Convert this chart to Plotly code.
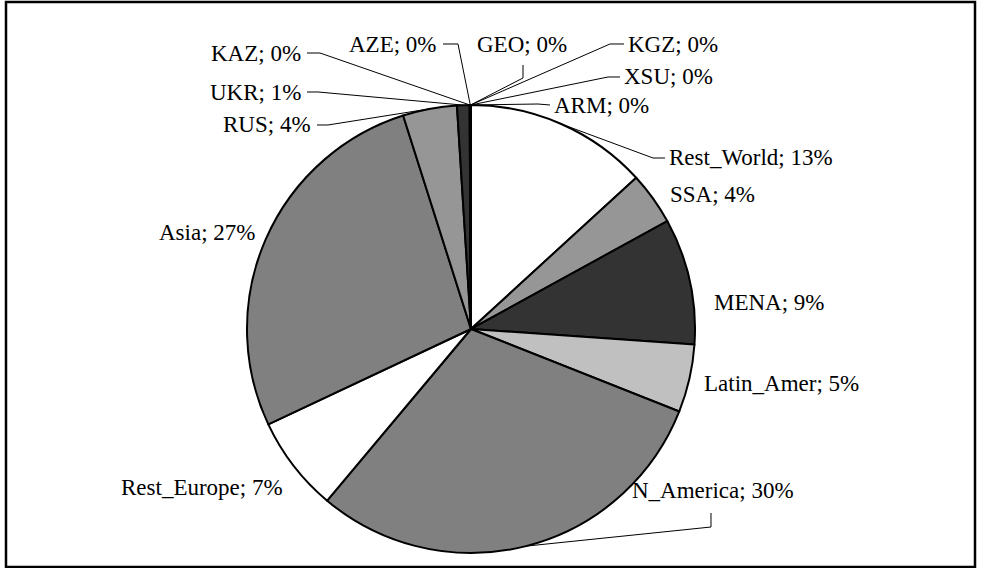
import math
import plotly.graph_objects as go

# ---- data ----
labels = ["Rest_World", "SSA", "MENA", "Latin_Amer", "N_America", "Rest_Europe",
          "Asia", "RUS", "UKR", "KAZ", "AZE", "GEO", "KGZ", "XSU", "ARM"]
shares = [13.2, 3.8, 9.1, 4.9, 30.1, 6.9, 27.1, 3.9, 0.9,
          0.04, 0.02, 0.01, 0.01, 0.01, 0.01]

# ---- style ----
slice_colors = ["#ffffff", "#969696", "#333333", "#c0c0c0", "#808080", "#ffffff",
                "#808080", "#969696", "#333333", "#c0c0c0", "#808080", "#ffffff",
                "#969696", "#333333", "#c0c0c0"]

W, H = 982, 568
CX, CY, R = 471, 329, 224  # pie geometry in pixels

# label layout: side, anchor x, anchor y, leader path points (pixels) before the slice edge
label_layout = {
    "Rest_World": ("left", 668, 158, [(665, 158), (653, 158)]),
    "SSA": ("left", 669, 195, None),
    "MENA": ("left", 713, 302, None),
    "Latin_Amer": ("left", 703, 383, None),
    "N_America": ("left", 631, 490, [(711, 513), (711, 527)]),
    "Rest_Europe": ("right", 284, 487, None),
    "Asia": ("right", 256, 232, None),
    "RUS": ("right", 312, 125, [(317, 125), (328, 125)]),
    "UKR": ("right", 302, 92, [(307, 92), (318, 92)]),
    "KAZ": ("right", 302, 53, [(307, 53), (320, 53)]),
    "AZE": ("right", 438, 44, [(443, 44), (458, 44)]),
    "GEO": ("left", 476, 44, [(523, 65), (523, 78)]),
    "KGZ": ("left", 627, 44, [(624, 44), (610, 44)]),
    "XSU": ("left", 623, 77, [(620, 77), (608, 77)]),
    "ARM": ("left", 553, 105, [(550, 105), (538, 104)]),
}

FONT = dict(family="Liberation Serif", size=23, color="black")


def px_x(x):
    return x / W


def px_y(y):
    return 1 - y / H


fig = go.Figure(go.Pie(
    labels=labels,
    values=shares,
    sort=False,
    direction="clockwise",
    rotation=0,
    textinfo="none",
    hoverinfo="label+percent",
    marker=dict(colors=slice_colors, line=dict(color="black", width=2)),
    domain=dict(x=[px_x(CX - R), px_x(CX + R)], y=[px_y(CY + R), px_y(CY - R)]),
    showlegend=False,
))

total = sum(shares)
cum = 0.0
annotations = []
shapes = []
for name, v in zip(labels, shares):
    frac = (cum + v / 2) / total
    cum += v
    theta = 2 * math.pi * frac
    ex = CX + R * math.sin(theta)
    ey = CY - R * math.cos(theta)
    side, ax, ay, leader = label_layout[name]
    pct = round(v / total * 100)
    annotations.append(dict(
        text=f"{name}; {pct}%", x=px_x(ax), y=px_y(ay), xref="paper", yref="paper",
        xanchor=side, yanchor="middle", showarrow=False, font=FONT, borderpad=0,
    ))
    if leader:
        pts = leader + [(ex, ey)]
        path = "M " + " L ".join(f"{px_x(px):.5f},{px_y(py):.5f}" for px, py in pts)
        shapes.append(dict(type="path", path=path, xref="paper", yref="paper",
                           line=dict(color="black", width=1)))

# outer chart border
shapes.append(dict(type="rect", xref="paper", yref="paper",
                   x0=px_x(6), x1=px_x(975), y0=px_y(567), y1=px_y(2),
                   line=dict(color="black", width=2.5), fillcolor="rgba(0,0,0,0)"))

fig.update_layout(
    width=W, height=H,
    margin=dict(l=0, r=0, t=0, b=0),
    paper_bgcolor="white",
    plot_bgcolor="white",
    annotations=annotations,
    shapes=shapes,
)

fig.write_html("out.html", config={"displayModeBar": False},
               post_script="document.body.style.margin='0px';")
